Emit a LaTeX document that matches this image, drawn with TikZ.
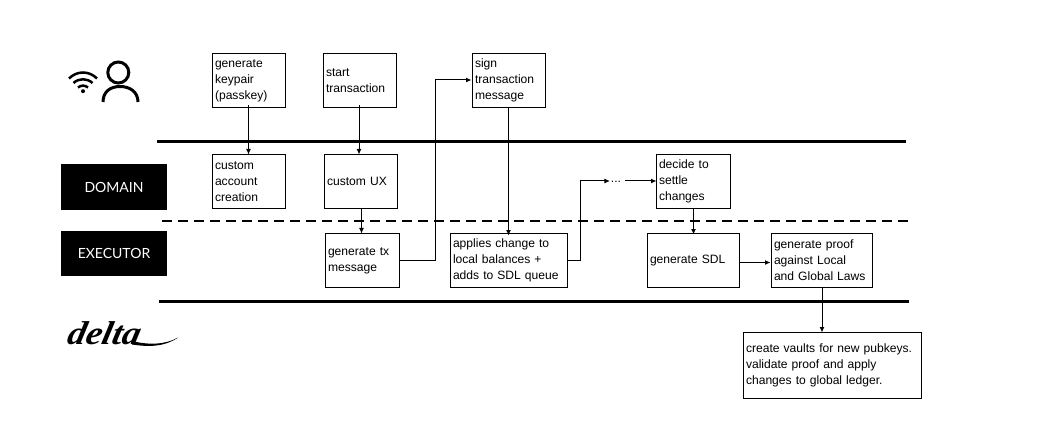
\documentclass[tikz,border=0pt]{standalone}
\usepackage{fontspec}
\setmainfont{Liberation Sans}
\newfontfamily\labelfont{Lato}
\newfontfamily\logofont{Liberation Serif}
\usetikzlibrary{arrows.meta,calc}
\tikzset{
  box/.style={draw=black,line width=1pt,fill=white,anchor=north west,inner xsep=2.5pt,inner ysep=0pt,outer sep=0pt,align=left,
    font=\fontsize{12.1}{16}\selectfont,text=black,execute at end node={\par\vskip-2pt}},
  tag/.style={fill=black,text=white,anchor=north west,inner sep=0pt,outer sep=0pt,align=center,font=\labelfont\fontsize{14}{16}\selectfont},
  arr/.style={draw=black,line width=1pt,-{Latex[length=5.5pt,width=5pt]}},
  lane/.style={line width=3pt,black},
  icon/.style={line width=3pt,black},
}
\begin{document}
\begin{tikzpicture}[x=1pt,y=-1pt]
\useasboundingbox (0,0) rectangle (1037,433);
\fill[white] (0,0) rectangle (1037,433);
% lanes
\draw[lane] (157,141.5) -- (906,141.5);
\draw[line width=2.2pt,dash pattern=on 10pt off 6pt] (162,221) -- (912,221);
\draw[lane] (159,301) -- (909,301);
% tags
\node[tag,minimum width=106pt,minimum height=46pt] (domain) at (61,164) {DOMAIN};
\node[tag,minimum width=106pt,minimum height=45pt] (executor) at (61,231) {EXECUTOR};
% boxes
\node[box,text width=68pt,minimum height=54pt] (key) at (212.5,53.5) {generate\\keypair\\(passkey)};
\node[box,text width=68pt,minimum height=54pt] (start) at (323.5,53.5) {start\\transaction};
\node[box,text width=68pt,minimum height=54pt] (sign) at (472.5,53.5) {sign\\transaction\\message};
\node[box,text width=68pt,minimum height=54pt] (acct) at (212.5,154.5) {custom\\account\\creation};
\node[box,text width=68pt,minimum height=54pt] (ux) at (324.5,154.5) {custom UX};
\node[box,text width=69pt,minimum height=54pt] (tx) at (325.5,233.5) {generate tx\\message};
\node[box,text width=112pt,minimum height=54pt] (apply) at (450.5,233.5) {applies change to\\local balances +\\adds to SDL queue};
\node[box,text width=69pt,minimum height=54pt] (decide) at (656.5,154.5) {decide to\\settle\\changes};
\node[box,text width=87pt,minimum height=54pt] (sdl) at (647.5,233.5) {generate SDL};
\node[box,text width=96pt,minimum height=54pt] (proof) at (771.5,233.5) {generate proof\\against Local\\and Global Laws};
\node[box,text width=173pt,minimum height=66pt] (vault) at (743.5,332.5) {create vaults for new pubkeys.\\validate proof and apply\\changes to global ledger.};
\node[inner sep=0pt,outer sep=0pt,font=\fontsize{12.1}{16}\selectfont] (dots) at (616,182) {...};
\coordinate (up) at (435,80);
\coordinate (up2) at (580,181);
% connectors
\draw[arr] ([xshift=-0.5pt,yshift=2pt]key.south) -- ([xshift=-0.5pt]key.south |- acct.north);
\draw[arr] ([xshift=-1pt,yshift=2pt]start.south) -- ([xshift=-1pt]start.south |- ux.north);
\draw[arr] ([xshift=0.5pt]ux.south) -- ([xshift=0.5pt]ux.south |- tx.north);
\draw[arr] (tx.east) -| (up) -- ([xshift=-1pt]up -| sign.west);
\draw[arr] ([xshift=-0.5pt]sign.south) -- ([xshift=-0.5pt,yshift=-2pt]sign.south |- apply.north);
\draw[arr] (apply.east) -| (up2) -- ([xshift=-1pt]up2 -| dots.west);
\draw[arr] ([xshift=4pt]up2 -| dots.east) -- (up2 -| decide.west);
\draw[arr] (decide.south) -- ([yshift=-1pt]decide.south |- sdl.north);
\draw[arr] ([yshift=-2pt]sdl.east) -- ([yshift=-2pt,xshift=-1pt]sdl.east -| proof.west);
\draw[arr] (proof.south) -- (proof.south |- vault.north);
% user icon
\draw[icon] (118.3,72.5) circle (10.5);
\draw[icon] (103,102) .. controls (103,92) and (110,86.5) .. (120,86.5) .. controls (130,86.5) and (138,92) .. (138,102);
\begin{scope}[line width=2.5pt,line cap=butt]
\draw (69,78.5) .. controls (77,70.5) and (89,70.5) .. (97,78.5);
\draw (73.5,83) .. controls (79,78) and (87,78) .. (92.5,83);
\draw (78,87.5) .. controls (81,85) and (85,85) .. (88,87.5);
\end{scope}
\fill (83,91.2) circle (2);
% delta wordmark
\node[inner sep=0pt,outer sep=0pt,font=\logofont\bfseries\itshape\fontsize{33}{33}\selectfont,xscale=1.1,xslant=0.2] (dw) at (105,333) {delta};
\fill (132,341) .. controls (148,345) and (165,345) .. (178,337.5) .. controls (165,347) and (148,347) .. (132,344.5) -- cycle;
\end{tikzpicture}
\end{document}
